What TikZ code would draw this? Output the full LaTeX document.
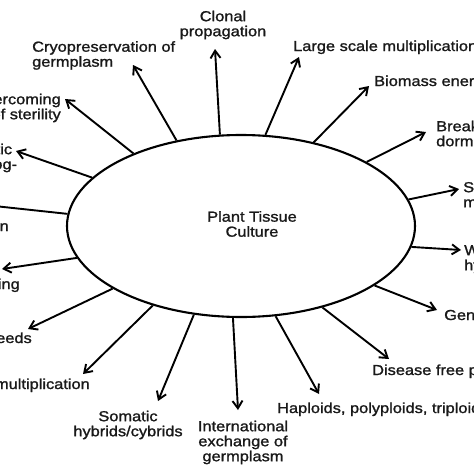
\documentclass[tikz,border=0pt]{standalone}
\usepackage{fontspec}
\setmainfont{Liberation Sans}[FakeStretch=1.13,FakeBold=1.3]
\usetikzlibrary{arrows.meta,shapes.geometric}
\begin{document}
\begin{tikzpicture}[x=1pt,y=-1pt,
  font=\fontsize{14.5}{15}\selectfont,
  lbl/.style={inner sep=0pt, text=black!90},
  arr/.style={-{Straight Barb[length=7.5pt,width=10pt]}, line width=1.9pt, draw=black}]
\path[use as bounding box] (0,0) rectangle (474,474);
\clip (0,0) rectangle (474,474);
\fill[white] (0,0) rectangle (474,474);
% central ellipse
\node[ellipse, draw=black, line width=2.1pt, minimum width=348pt, minimum height=182pt, inner sep=0pt] (ptc) at (241,226) {};
\node[lbl, align=center] (ptct) at (252,224) {Plant Tissue\\Culture};
% labels
\node[lbl, anchor=north, align=center] (clonal) at (223,10.5) {Clonal\\propagation};
\node[lbl, anchor=north west, align=left] (cryo) at (32,41) {Cryopreservation of\\germplasm};
\node[lbl, anchor=north east, align=right] (over) at (61,93.5) {Overcoming\\of sterility};
\node[lbl, anchor=north, align=center] (embryo) at (-17.5,143.5) {Somatic\\embryog-};
\node[lbl, anchor=base east] (varn) at (9,231) {Somaclonal variation};
\node[lbl, anchor=base east] (hard) at (20,289) {Hardening};
\node[lbl, anchor=base east] (seeds) at (32,343) {Synthetic seeds};
\node[lbl, anchor=base east] (rapid) at (90,389) {Rapid multiplication};
\node[lbl, anchor=north, align=center] (somhyb) at (128,410.5) {Somatic\\hybrids/cybrids};
\node[lbl, anchor=north, align=center] (intl) at (243,420.5) {International\\exchange of\\germplasm};
\node[lbl, anchor=base west] (hap) at (277,413) {Haploids, polyploids, triploids};
\node[lbl, anchor=base west] (dis) at (372,375) {Disease free plants};
\node[lbl, anchor=base west] (gen) at (444,320) {Genetic transformation};
\node[lbl, anchor=north west, align=left] (wide) at (464,244.5) {Wide\\hybridization};
\node[lbl, anchor=north west, align=left] (sec) at (463,181.5) {Secondary\\metabolites};
\node[lbl, anchor=north west, align=left] (brk) at (436,120.5) {Breaking\\dormancy};
\node[lbl, anchor=base west] (bio) at (374,86) {Biomass energy};
\node[lbl, anchor=base west] (large) at (293,51) {Large scale multiplication};
% arrow tips
\coordinate (tclonal) at (215,49);
\coordinate (tlarge) at (299,57);
\coordinate (tbio) at (369,86);
\coordinate (tbrk) at (426,132);
\coordinate (tsec) at (459,189);
\coordinate (twide) at (461,250);
\coordinate (tgen) at (437,310);
\coordinate (tdis) at (389,359);
\coordinate (thap) at (319,394);
\coordinate (tintl) at (238,410);
\coordinate (tsomhyb) at (158,401);
\coordinate (trapid) at (83,374);
\coordinate (tseeds) at (28,329);
\coordinate (thard) at (2,269);
\coordinate (tvarn) at (-15,205);
\coordinate (tembryo) at (16,151);
\coordinate (tover) at (65,99);
\coordinate (tcryo) at (133,65);
% arrows
\draw[arr] (ptc.103) -- (tclonal);
\draw[arr] (ptc.75.2) -- (tlarge);
\draw[arr] (ptc.49) -- (tbio);
\draw[arr] (ptc.27.3) -- (tbrk);
\draw[arr] (ptc.9.7) -- (tsec);
\draw[arr] (ptc.-7) -- (twide);
\draw[arr] (ptc.-24.6) -- (tgen);
\draw[arr] (ptc.-45.7) -- (tdis);
\draw[arr] (ptc.-69.9) -- (thap);
\draw[arr] (ptc.-95) -- (tintl);
\draw[arr] (ptc.-118.9) -- (tsomhyb);
\draw[arr] (ptc.-138.4) -- (trapid);
\draw[arr] (ptc.-154.7) -- (tseeds);
\draw[arr] (ptc.-169.4) -- (thard);
\draw[arr] (ptc.176.4) -- (tvarn);
\draw[arr] (ptc.162.1) -- (tembryo);
\draw[arr] (ptc.146.1) -- (tover);
\draw[arr] (ptc.127) -- (tcryo);
\end{tikzpicture}
\end{document}
